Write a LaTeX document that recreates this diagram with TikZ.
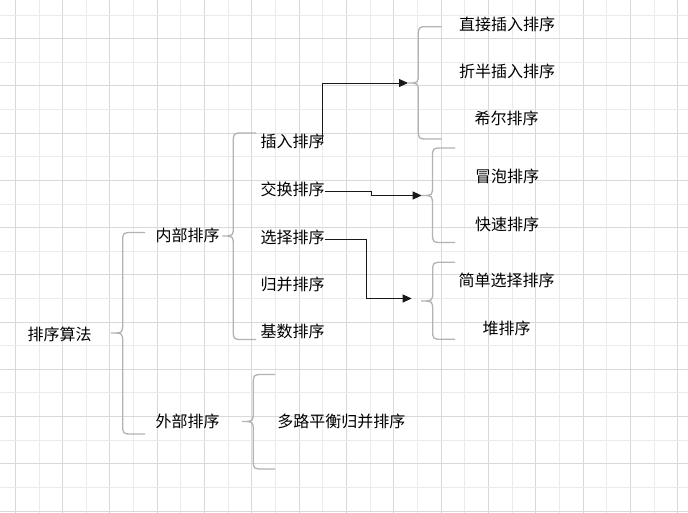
\documentclass[tikz,border=0pt]{standalone}
\usepackage{fontspec}
\newfontfamily\cjk{Noto Sans CJK SC}
\usetikzlibrary{arrows.meta,calc}
\definecolor{gridmaj}{HTML}{D9D9D9}
\definecolor{gridmin}{HTML}{EBEBEB}
\definecolor{bracecol}{HTML}{B3B3B3}
\newcommand\cbrace[6]{% xt xv xr yt ym yb
  \draw[brc] (#3,#4) -- ({#2+10},#4) .. controls (#2,#4) .. (#2,{#4+10})
    -- (#2,{#5-10}) .. controls (#2,#5) .. (#1,#5)
    .. controls (#2,#5) .. (#2,{#5+10})
    -- (#2,{#6-10}) .. controls (#2,#6) .. ({#2+10},#6) -- (#3,#6);}
\begin{document}
\begin{tikzpicture}[x=1pt,y=-1pt,
  lbl/.style={font=\cjk\fontsize{16}{18}\selectfont, inner sep=0pt, anchor=center, text=black},
  brc/.style={draw=bracecol, line width=1.3pt},
  conn/.style={-{Triangle[length=9pt,width=8pt]}, line width=0.9pt, draw=black!90}]
\useasboundingbox (0,0) rectangle (688,513);
\fill[white] (0,0) rectangle (688,513);
% grid
\foreach \k in {0,...,28}{
  \pgfmathsetmacro\gx{15.3+23.66*\k}
  \pgfmathtruncatemacro\gpar{mod(\k,2)}
  \ifnum\gpar=0 \draw[gridmaj, line width=0.9pt] (\gx,0) -- (\gx,513);
  \else \draw[gridmin, line width=0.9pt] (\gx,0) -- (\gx,513); \fi}
\foreach \k in {0,...,21}{
  \pgfmathsetmacro\gy{15+23.62*\k}
  \pgfmathtruncatemacro\gpar{mod(\k,2)}
  \ifnum\gpar=1 \draw[gridmaj, line width=0.9pt] (0,\gy) -- (688,\gy);
  \else \draw[gridmin, line width=0.9pt] (0,\gy) -- (688,\gy); \fi}
% braces
\cbrace{111}{122.7}{145}{232.5}{333}{434}
\cbrace{222.5}{233.3}{256}{133}{236}{339.5}
\cbrace{242}{253.3}{275}{374.5}{421.5}{469}
\cbrace{408}{418.3}{441.7}{26.7}{83}{139}
\cbrace{421.7}{432.5}{455}{148}{195.5}{242.5}
\cbrace{421.2}{432.7}{455}{262.3}{301}{339.3}
\coordinate (t4) at (408,83);
\coordinate (t5) at (421.7,195.5);
\coordinate (e3) at (411.7,298.5);
% labels
\node[lbl] (root) at (59.5,334.5) {排序算法};
\node[lbl] (inner) at (187.5,235) {内部排序};
\node[lbl] (outer) at (187.5,421) {外部排序};
\node[lbl] (ins) at (292.5,141.5) {插入排序};
\node[lbl] (swap) at (292.5,189.7) {交换排序};
\node[lbl] (sel) at (292.5,237) {选择排序};
\node[lbl] (merge) at (292.5,284.5) {归并排序};
\node[lbl] (radix) at (292.5,331.5) {基数排序};
\node[lbl] (multi) at (341.3,421.5) {多路平衡归并排序};
\node[lbl] (direct) at (507,24) {直接插入排序};
\node[lbl] (binary) at (507,71.7) {折半插入排序};
\node[lbl] (shell) at (506.7,118.3) {希尔排序};
\node[lbl] (bubble) at (507,176) {冒泡排序};
\node[lbl] (quick) at (507,224) {快速排序};
\node[lbl] (simple) at (506.7,280.7) {简单选择排序};
\node[lbl] (heap) at (506.7,328.3) {堆排序};
% connectors
\draw[conn] ($(ins.east)+(-2,0)$) |- (t4);
\draw[conn] ($(swap.east)+(0,2)$) -- ++(46.7,0) |- (t5);
\draw[conn] ($(sel.east)+(0,2.3)$) -- ++(41.7,0) |- (e3);
\end{tikzpicture}
\end{document}
